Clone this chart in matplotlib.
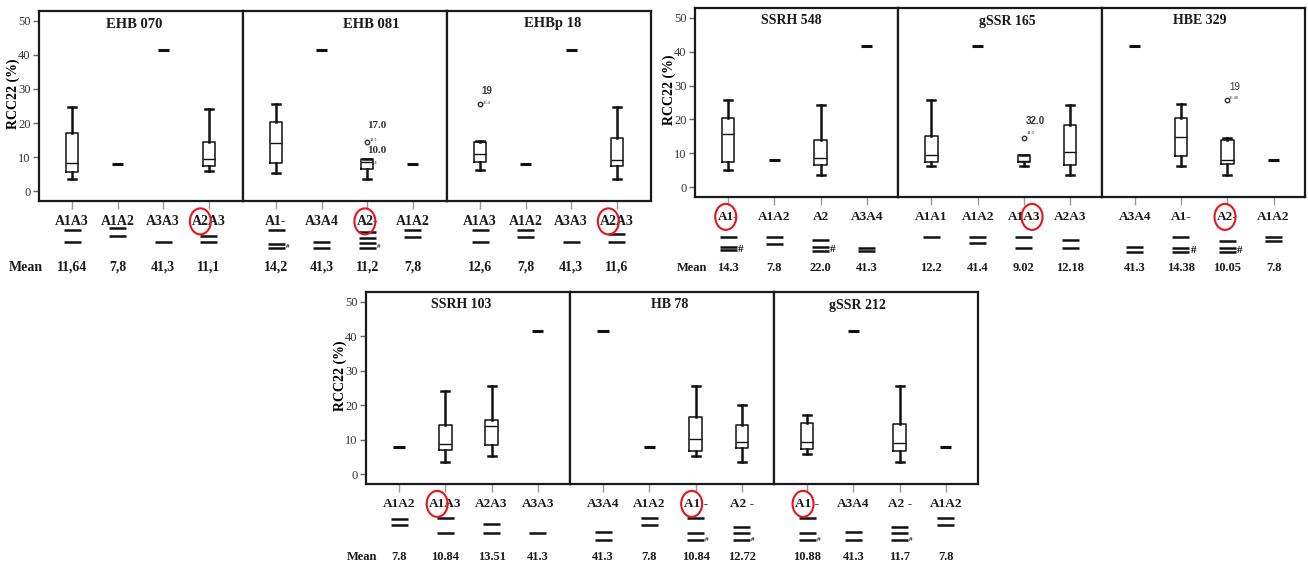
import numpy as np
import matplotlib.pyplot as plt
from matplotlib import transforms
from matplotlib.patches import Ellipse

plt.rcParams['font.family'] = ['Liberation Serif', 'DejaVu Serif']

W, H = 1308, 569

# ---------------- data ----------------
titles = ['EHB 070', 'EHB 081', 'EHBp 18',
          'SSRH 548', 'gSSR 165', 'HBE 329',
          'SSRH 103', 'HB 78', 'gSSR 212']

genotypes = [
    ['A1A3', 'A1A2', 'A3A3', 'A2A3'],
    ['A1-', 'A3A4', 'A2-', 'A1A2'],
    ['A1A3', 'A1A2', 'A3A3', 'A2A3'],
    ['A1-', 'A1A2', 'A2', 'A3A4'],
    ['A1A1', 'A1A2', 'A1A3', 'A2A3'],
    ['A3A4', 'A1-', 'A2-', 'A1A2'],
    ['A1A2', 'A1A3', 'A2A3', 'A3A3'],
    ['A3A4', 'A1A2', 'A1 -', 'A2 -'],
    ['A1 -', 'A3A4', 'A2 -', 'A1A2'],
]

# (low whisker, q1, median, q3, high whisker); a plain number = group with one value
box_stats = [
    [(3.6, 5.8, 8.3, 17.2, 24.6), 7.9, 41.3, (6.1, 7.4, 9.4, 14.5, 24.2)],
    [(5.3, 8.2, 14.2, 20.2, 25.6), 41.3, (3.6, 6.5, 8.6, 9.5, 9.5), 7.9],
    [(6.3, 8.5, 10.9, 14.6, 14.9), 7.9, 41.3, (3.6, 7.3, 9.3, 15.6, 24.6)],
    [(5.2, 7.5, 15.6, 20.4, 25.7), 8.0, (3.8, 6.5, 8.6, 14.1, 24.2), 41.5],
    [(6.2, 7.5, 9.5, 15.1, 25.7), 41.5, (6.4, 7.4, 7.8, 9.7, 9.7), (3.8, 6.6, 10.5, 18.5, 24.2)],
    [41.5, (6.2, 9.2, 14.9, 20.4, 24.7), (3.8, 6.8, 8.1, 14.1, 14.6), 8.0],
    [7.9, (3.6, 7.0, 8.9, 14.3, 24.1), (5.2, 8.6, 13.9, 15.8, 25.5), 41.4],
    [41.4, 7.9, (5.2, 6.8, 10.1, 16.5, 25.5), (3.6, 7.5, 9.5, 14.2, 20.2)],
    [(6.0, 7.4, 9.4, 15.0, 17.2), 41.4, (3.6, 6.8, 9.0, 14.5, 25.5), 7.9],
]

# outliers: (panel, genotype index, value)
outliers = [(1, 2, 14.4), (2, 0, 25.5), (4, 2, 14.6), (5, 2, 25.7)]

means = [
    ['11,64', '7,8', '41,3', '11,1'],
    ['14,2', '41,3', '11,2', '7,8'],
    ['12,6', '7,8', '41,3', '11,6'],
    ['14.3', '7.8', '22.0', '41.3'],
    ['12.2', '41.4', '9.02', '12.18'],
    ['41.3', '14.38', '10.05', '7.8'],
    ['7.8', '10.84', '13.51', '41.3'],
    ['41.3', '7.8', '10.84', '12.72'],
    ['10.88', '41.3', '11.7', '7.8'],
]

# rows of the grouping underlines below each genotype
group_rows = [
    [[0, 2], [-0.3, 1], [2], [1, 2]],
    [[0, 2.3, 3], [2, 3], [0.3, 1.3, 2.2, 3], [0, 1.1]],
    [[0, 2], [0, 1.1], [2], [0.7, 2]],
    [[0, 2.5, 3.4], [0, 1.8], [0.8, 2.5, 3.5], [2.75, 3.5]],
    [[0], [0, 1.65], [0, 2.9], [0.8, 2.9]],
    [[2.5, 3.75], [0, 2.9, 3.75], [1, 2.75, 3.75], [0, 1.1]],
    [[0.2, 1], [0, 2], [0.85, 2], [2]],
    [[1.85, 3], [0, 1], [0, 2, 3], [1.2, 2, 3]],
    [[0, 2, 3], [1.85, 3], [1.2, 2, 3], [0, 1]],
]
hash_marks = [
    [], [0, 2], [],
    [0, 2], [], [1, 2],
    [], [2, 3], [0, 2],
]

# circled allele: (panel, genotype index, first char, length)
circled = [(0, 3, 0, 2), (1, 2, 0, 2), (2, 3, 0, 2),
           (3, 0, 0, 2), (4, 2, 2, 2), (5, 2, 0, 2),
           (6, 1, 0, 2), (7, 2, 0, 2), (8, 0, 0, 2)]

# outlier notes: (panel, genotype, value, text, size, dx px, dy px, weight, family)
notes = [
    (1, 2, 14.4, '17.0', 8, 10, -17, 'bold', 'serif'),
    (1, 2, 14.4, '14.1', 3, 6, -2, 'normal', 'sans'),
    (1, 2, 14.4, '10.0', 8, 10, 8, 'bold', 'serif'),
    (1, 2, 8.4, '8.4', 3, 7, 0, 'normal', 'sans'),
    (2, 0, 25.5, '19', 7, 7, -13, 'bold', 'sans'),
    (2, 0, 25.5, '25.4', 3, 7, -1, 'normal', 'sans'),
    (4, 2, 14.6, '32.0', 7, 11, -17, 'bold', 'sans'),
    (4, 2, 14.6, '14.3', 3, 7, -5, 'normal', 'sans'),
    (5, 2, 25.7, '19', 7, 7, -13, 'normal', 'sans'),
    (5, 2, 25.7, '25.40', 3, 7, -2, 'normal', 'sans'),
]

# ---------------- layout (pixels) ----------------
groups = [
    dict(panels=[0, 1, 2], left=39, right=651, top=11, bottom=201, unit=45.6,
         fs=10, mfs=10, row0=230, rstep=6, mean_y=267, mean_x=-13, hash_fs=5),
    dict(panels=[3, 4, 5], left=695, right=1305, top=8, bottom=197, unit=46.3,
         fs=9.5, mfs=9, row0=236.7, rstep=4, mean_y=268, mean_x=-3, hash_fs=8),
    dict(panels=[6, 7, 8], left=366, right=978, top=292, bottom=484, unit=46.3,
         fs=9.5, mfs=9, row0=517.7, rstep=7.5, mean_y=556.7, mean_x=-4, hash_fs=5),
]
title_x = [1.36, 2.08, 1.6, 1.36, 1.64, 1.4, 1.35, 1.45, 1.09]

fig = plt.figure(figsize=(W / 100, H / 100), dpi=100)
axes = {}

for g in groups:
    n = len(g['panels'])
    pw = (g['right'] - g['left']) / n
    ph = g['bottom'] - g['top']
    for k, p in enumerate(g['panels']):
        x0 = g['left'] + k * pw
        ax = fig.add_axes([x0 / W, 1 - g['bottom'] / H, pw / W, ph / H])
        axes[p] = ax
        lo = -33 / g['unit']
        ax.set_xlim(lo, lo + pw / g['unit'])
        ax.set_ylim(-2.8, 52.8)
        for s in ax.spines.values():
            s.set_linewidth(1.6)
            s.set_color('#1a1a1a')

        stats, pos = [], []
        for i, s in enumerate(box_stats[p]):
            if isinstance(s, tuple):
                fl = [v for (pp, ii, v) in outliers if pp == p and ii == i]
                stats.append(dict(whislo=s[0], q1=s[1], med=s[2], q3=s[3],
                                  whishi=s[4], fliers=fl))
                pos.append(i)
            else:
                ax.hlines(s, i - 0.12, i + 0.12, color='#111', lw=2.2)
        ax.bxp(stats, positions=pos, widths=0.27, capwidths=0.17,
               boxprops=dict(color='#111', lw=1.1),
               whiskerprops=dict(color='#111', lw=1.8),
               capprops=dict(color='#111', lw=1.8),
               medianprops=dict(color='#111', lw=1.0),
               flierprops=dict(marker='o', ms=3.2, mfc='white', mec='#333', mew=1.0))

        ax.set_xticks(range(4))
        ax.set_xticklabels(genotypes[p], fontsize=g['fs'], fontweight='bold', color='#1a1a1a')
        ax.tick_params(axis='x', direction='out', length=6, width=1, color='#999', pad=4)
        if k == 0:
            ax.set_yticks(range(0, 51, 10))
            ax.tick_params(axis='y', direction='out', length=4, width=1, color='#666',
                           labelsize=9, labelcolor='#333', pad=2)
            ax.set_ylabel('RCC22 (%)', fontsize=10, fontweight='bold')
            ax.yaxis.set_label_coords(-0.095, 0.565)
        else:
            ax.set_yticks([])

        ax.text(title_x[p], 1 - (g['top'] + 13) / H, titles[p], transform=transforms.blended_transform_factory(ax.transData, fig.transFigure),
                ha='center', va='center', fontsize=g['fs'] + 0.5, fontweight='bold', color='#1a1a1a')

        tr = transforms.blended_transform_factory(ax.transData, fig.transFigure)
        half = 8.5 / g['unit']
        for i, rows in enumerate(group_rows[p]):
            for r in rows:
                yy = 1 - (g['row0'] + r * g['rstep']) / H
                ax.plot([i - half, i + half], [yy, yy], transform=tr, color='#111',
                        lw=1.8, clip_on=False, solid_capstyle='butt')
            if i in hash_marks[p]:
                yy = 1 - (g['row0'] + max(rows) * g['rstep'] - 1) / H
                ax.text(i + half + 0.02, yy, '#', transform=tr, fontsize=g['hash_fs'],
                        fontweight='bold', ha='left', va='center', color='#111')
            ax.text(i, 1 - g['mean_y'] / H, means[p][i], transform=tr, ha='center',
                    va='center', fontsize=g['mfs'], fontweight='bold', color='#1a1a1a')

    fig.text((g['left'] + g['mean_x']) / W, 1 - g['mean_y'] / H, 'Mean', ha='center',
             va='center', fontsize=g['mfs'], fontweight='bold', color='#1a1a1a')

# outlier notes
for (p, i, v, t, sz, dx, dy, wt, fam) in notes:
    ax = axes[p]
    off = transforms.offset_copy(ax.transData, fig=fig, x=dx * 0.72, y=-dy * 0.72, units='points')
    ax.text(i, v, t, transform=off, fontsize=sz, fontweight=wt, ha='center', va='center',
            color='#333', family=['Liberation Sans'] if fam == 'sans' else ['Liberation Serif'])

# red circles around the allele of interest
fig.canvas.draw()
rend = fig.canvas.get_renderer()
for (p, i, start, ln) in circled:
    lab = axes[p].get_xticklabels()[i]
    bb = lab.get_window_extent(rend)
    prop = lab.get_fontproperties()
    txt = lab.get_text()
    wpre = rend.get_text_width_height_descent(txt[:start], prop, ismath=False)[0] if start else 0
    wsub = rend.get_text_width_height_descent(txt[start:start + ln], prop, ismath=False)[0]
    cx = bb.x0 + wpre + wsub / 2
    cy = (bb.y0 + bb.y1) / 2
    fig.patches.append(Ellipse((cx / W, cy / H), 21 / W, 26 / H, transform=fig.transFigure,
                               fill=False, edgecolor='#e8141b', lw=1.5))

fig.savefig('out.png', dpi=100)
